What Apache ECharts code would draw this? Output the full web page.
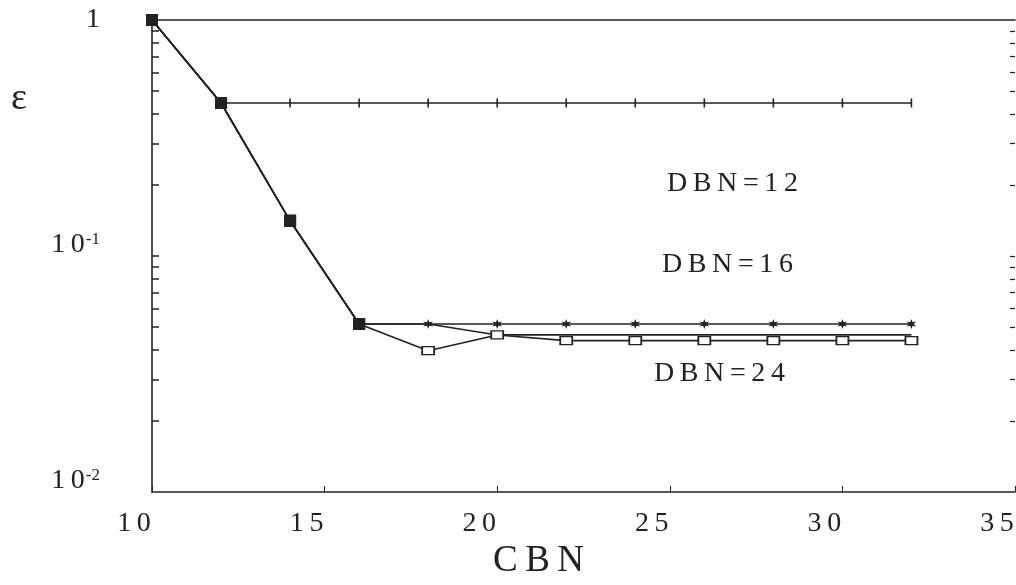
<!DOCTYPE html>
<html>
<head>
<meta charset="utf-8">
<script src="https://cdn.jsdelivr.net/npm/echarts@6/dist/echarts.min.js"></script>
<style>html,body{margin:0;padding:0;background:#fff}#c{width:1016px;height:585px}</style>
</head>
<body>
<div id="c"></div>
<script>
// ---- data ----
const cbn = [10, 12, 14, 16, 18, 20, 22, 24, 26, 28, 30, 32];
const dbn12 = [1, 0.445, 0.445, 0.445, 0.445, 0.445, 0.445, 0.445, 0.445, 0.445, 0.445, 0.445];
const dbn16 = [1, 0.445, 0.141, 0.0515, 0.0515, 0.0515, 0.0515, 0.0515, 0.0515, 0.0515, 0.0515, 0.0515];
const dbn20 = [1, 0.445, 0.141, 0.0515, 0.0515, 0.0463, 0.0463, 0.0463, 0.0463, 0.0463, 0.0463, 0.0463];
const dbn24 = [1, 0.445, 0.141, 0.0515, 0.0397, 0.0463, 0.0438, 0.0438, 0.0438, 0.0438, 0.0438, 0.0438];
const xTicks = [10, 15, 20, 25, 30, 35];
const yMajor = [0.01, 0.1, 1];
const yMinor = [0.02, 0.03, 0.04, 0.05, 0.06, 0.07, 0.08, 0.09, 0.1, 0.2, 0.3, 0.4, 0.5, 0.6, 0.7, 0.8, 0.9];
const seriesLabels = ['DBN=12', 'DBN=16', 'DBN=24'];

const FONT = '"Liberation Serif", "DejaVu Serif", serif';
const INK = '#222';
const sp = s => s.split('').join('\u2009');

const filledSq = {symbol: 'rect', symbolSize: 12, itemStyle: {color: INK, borderColor: INK, borderWidth: 0}};
const star = 'path://M5,0 L6.2,3.2 L10,2.5 L7.2,5 L10,7.5 L6.2,6.8 L5,10 L3.8,6.8 L0,7.5 L2.8,5 L0,2.5 L3.8,3.2Z';

function build(vals, common, later) {
  return vals.map((v, i) => {
    const d = {value: [cbn[i], v]};
    if (i < common) Object.assign(d, filledSq);
    else Object.assign(d, later);
    return d;
  });
}

const lineStyle = {color: INK, width: 1.6};

const chart = echarts.init(document.getElementById('c'), null, {renderer: 'canvas'});
chart.setOption({
  animation: false,
  backgroundColor: '#fff',
  textStyle: {fontFamily: FONT, color: INK},
  grid: {left: 152, right: 1, top: 20, bottom: 93, outerBoundsMode: 'none', containLabel: false},
  xAxis: [{
    type: 'value', min: 10, max: 35, interval: 5, position: 'bottom',
    axisLine: {lineStyle: {color: INK, width: 1.6}},
    axisTick: {inside: true, length: 6, lineStyle: {color: INK}, customValues: xTicks},
    axisLabel: {
      margin: 18, fontSize: 28, fontFamily: FONT, color: INK, customValues: xTicks,
      padding: [0, 36, 0, 0], alignMinLabel: 'center', alignMaxLabel: 'center',
      formatter: v => sp(String(v))
    },
    splitLine: {show: false},
    name: sp('CBN'), nameLocation: 'middle', nameGap: 50,
    nameTextStyle: {fontSize: 37, fontFamily: FONT, color: INK, padding: [0, 90, 0, 0]}
  }, {
    type: 'value', min: 10, max: 35, position: 'top',
    axisLine: {show: true, onZero: false, lineStyle: {color: INK, width: 1.6}},
    axisTick: {show: false}, axisLabel: {show: false}, splitLine: {show: false}
  }],
  yAxis: [{
    type: 'log', logBase: 10, min: 0.01, max: 1, position: 'left',
    axisLine: {show: true, onZero: false, lineStyle: {color: INK, width: 1.6}},
    axisTick: {inside: true, length: 7, lineStyle: {color: INK, width: 1.5}, customValues: yMinor},
    axisLabel: {
      margin: 52, fontSize: 28, fontFamily: FONT, color: INK, customValues: yMajor,
      formatter: v => {
        const e = Math.round(Math.log10(v));
        return e === 0 ? '1' : '{h| }{b|' + sp('10') + '}{s|' + e + '}';
      },
      rich: {
        h: {fontSize: 10, lineHeight: 50, fontFamily: FONT},
        b: {fontSize: 28, lineHeight: 30, verticalAlign: 'top', fontFamily: FONT, color: INK},
        s: {fontSize: 17, lineHeight: 18, verticalAlign: 'top', fontFamily: FONT, color: INK, padding: [0, 0, 0, 1]}
      }
    },
    splitLine: {show: false}
  }, {
    type: 'log', logBase: 10, min: 0.01, max: 1, position: 'right',
    axisLine: {show: false},
    axisTick: {inside: true, length: 5, lineStyle: {color: INK, width: 1.2}, customValues: yMinor},
    axisLabel: {show: false}, splitLine: {show: false}
  }],
  series: [{
    name: 'DBN=12', type: 'line', data: build(dbn12, 2, {symbol: 'rect', symbolSize: [1.6, 9], itemStyle: {color: INK}}),
    lineStyle, itemStyle: {color: INK}, z: 3
  }, {
    name: 'DBN=16', type: 'line', data: build(dbn16, 4, {symbol: star, symbolSize: 10, itemStyle: {color: INK}}),
    lineStyle, itemStyle: {color: INK}, z: 3
  }, {
    name: 'DBN=20', type: 'line', data: build(dbn20, 4, {symbol: 'none'}),
    lineStyle, itemStyle: {color: INK}, z: 3
  }, {
    name: 'DBN=24', type: 'line',
    data: build(dbn24, 4, {symbol: 'rect', symbolSize: [12, 8], itemStyle: {color: '#fff', borderColor: INK, borderWidth: 1.5}}),
    lineStyle, itemStyle: {color: INK}, z: 4
  }],
  graphic: [
    {type: 'text', left: 11, top: 80, style: {text: 'ε', font: '38px ' + FONT, fill: INK}},
    {type: 'text', left: 667, top: 170, style: {text: sp(seriesLabels[0]), font: '28px ' + FONT, fill: INK}},
    {type: 'text', left: 662, top: 251, style: {text: sp(seriesLabels[1]), font: '28px ' + FONT, fill: INK}},
    {type: 'text', left: 654, top: 360, style: {text: sp(seriesLabels[2]), font: '28px ' + FONT, fill: INK}}
  ]
});
</script>
</body>
</html>
